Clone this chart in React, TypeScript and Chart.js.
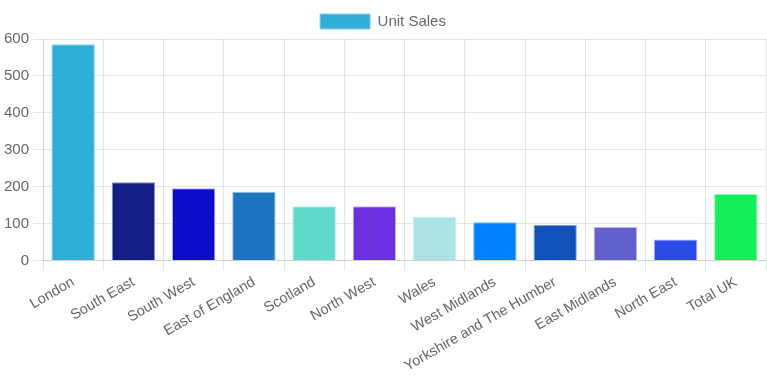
import React, { useEffect, useRef } from "react";
import { Chart, registerables } from "chart.js";

Chart.register(...registerables);

const categories = [
  "London", "South East", "South West", "East of England", "Scotland", "North West",
  "Wales", "West Midlands", "Yorkshire and The Humber", "East Midlands", "North East", "Total UK",
];
const unitSales = [586, 212, 196, 186, 147, 147, 119, 104, 97, 91, 57, 180];
const barColors = [
  "#2FAED6", "#151E85", "#0E0CCB", "#1E74C0", "#5FD8CC", "#6A30DF",
  "#ABE3E5", "#0080FF", "#1052BC", "#6260CC", "#2A4BE8", "#14EE57",
];
const borderColors = [
  "#8ad0e6", "#8b8fc2", "#b0b0ee", "#8fbae0", "#a8ebe4", "#cdb6f3",
  "#d5f1f2", "#80c0ff", "#88a9de", "#b9b8ec", "#9aa9f4", "#8af7ab",
];

const FONT = "'Liberation Sans', Arial, sans-serif";

export default function App() {
  const ref = useRef<HTMLCanvasElement | null>(null);
  useEffect(() => {
    if (!ref.current) return;
    const chart = new Chart(ref.current, {
      type: "bar",
      data: {
        labels: categories,
        datasets: [
          {
            label: "Unit Sales",
            data: unitSales,
            backgroundColor: barColors,
            borderColor: borderColors,
            borderWidth: 1,
          },
        ],
      },
      options: {
        animation: false,
        responsive: true,
        maintainAspectRatio: false,
        layout: { padding: { top: 4, right: 1, bottom: 5 } },
        plugins: {
          legend: {
            labels: {
              boxWidth: 50,
              boxHeight: 15,
              color: "#666",
              font: { family: FONT, size: 15 },
            },
          },
          tooltip: { enabled: false },
        },
        scales: {
          x: {
            grid: { color: "rgba(0,0,0,0.1)", tickLength: 10 },
            ticks: {
              color: "#666",
              maxRotation: 30,
              minRotation: 30,
              font: { family: FONT, size: 14.5 },
            },
          },
          y: {
            min: 0,
            max: 600,
            grid: { color: "rgba(0,0,0,0.1)", tickLength: 10 },
            ticks: {
              stepSize: 100,
              padding: 4,
              color: "#666",
              font: { family: FONT, size: 15 },
            },
          },
        },
      },
    });
    return () => chart.destroy();
  }, []);
  return (
    <div style={{ position: "absolute", left: 0, top: 0, width: 767, height: 383 }}>
      <canvas ref={ref} />
    </div>
  );
}
